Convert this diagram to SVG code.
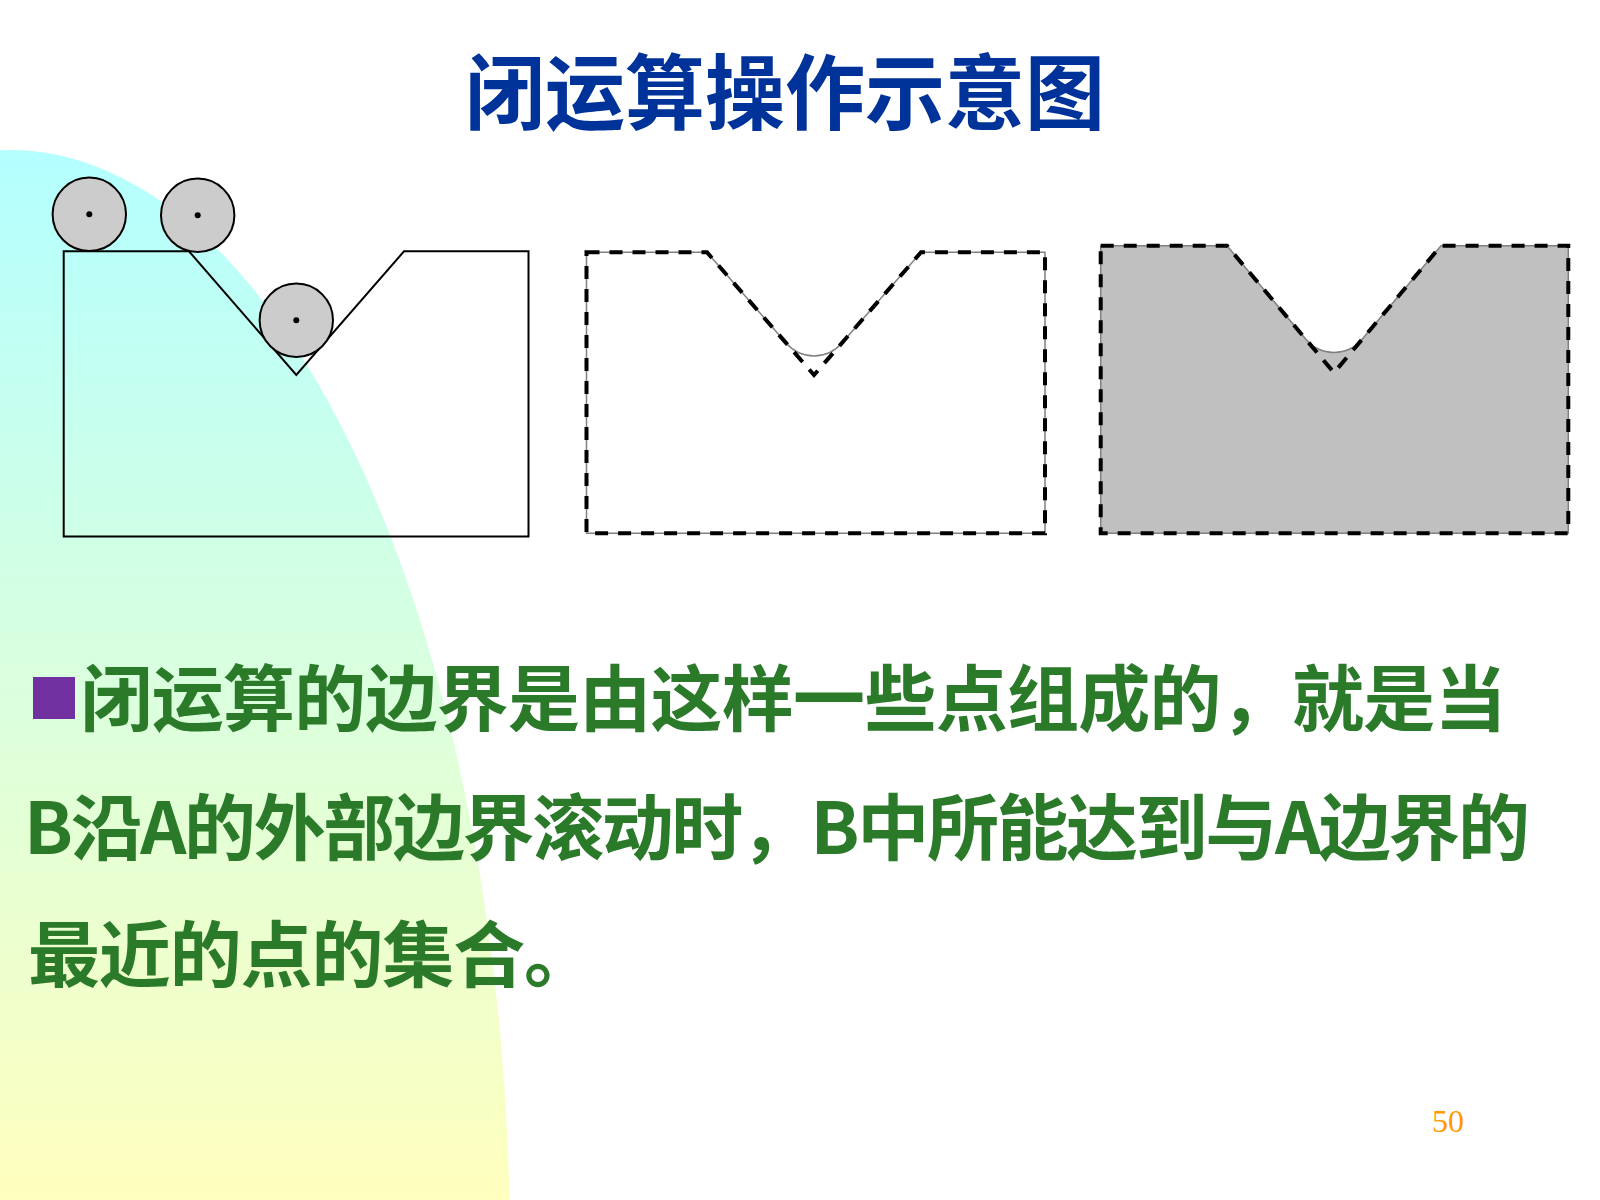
<svg xmlns="http://www.w3.org/2000/svg" width="1600" height="1200" viewBox="0 0 1600 1200">
  <defs>
    <linearGradient id="bgGrad" gradientUnits="userSpaceOnUse" x1="0" y1="150" x2="0" y2="1200">
      <stop offset="0" stop-color="#b3ffff"/>
      <stop offset="1" stop-color="#ffffbe"/>
    </linearGradient>
  </defs>
  <style>
    .title { font-family: "Noto Sans CJK SC", "Noto Sans", sans-serif; font-weight: 700; font-size: 82px; fill: #003399; }
    .body { font-family: "Noto Sans CJK SC", "Noto Sans", sans-serif; font-weight: 700; font-size: 72px; fill: #2a7a2a; }
    .page { font-family: "Liberation Serif", serif; font-size: 32px; fill: #ff9900; }
    .orig { fill: none; stroke: #000; stroke-width: 2; stroke-linejoin: miter; }
    .ball { fill: #cccccc; stroke: #000; stroke-width: 2; }
    .dot { fill: #000; }
    .closed { stroke: #808080; stroke-width: 1.5; stroke-linejoin: round; }
    .dash { fill: none; stroke: #000; stroke-width: 4; stroke-dasharray: 13 10; }
  </style>

  <rect x="0" y="0" width="1600" height="1200" fill="#ffffff"/>
  <ellipse id="background-arc" cx="10" cy="1250" rx="500" ry="1100" fill="url(#bgGrad)"/>

  <text id="title" class="title" x="785" y="123" text-anchor="middle" textLength="640" lengthAdjust="spacingAndGlyphs">闭运算操作示意图</text>

  <g id="shape-original">
    <path class="orig" d="M63.7,251.3 L189,251.3 L296.3,375 L404,251.3 L528.5,251.3 L528.5,536.5 L63.7,536.5 Z"/>
    <g id="ball-1">
      <circle class="ball" cx="89.3" cy="214.3" r="36.7"/>
      <circle class="dot" cx="89.3" cy="214.3" r="3"/>
    </g>
    <g id="ball-2">
      <circle class="ball" cx="197.7" cy="215.3" r="36.7"/>
      <circle class="dot" cx="197.7" cy="215.3" r="3"/>
    </g>
    <g id="ball-3">
      <circle class="ball" cx="296.3" cy="320.3" r="36.7"/>
      <circle class="dot" cx="296.3" cy="320.3" r="3"/>
    </g>
  </g>

  <g id="shape-closing-outline">
    <path class="closed" fill="#ffffff" d="M586.5,252.3 L707,252.3 L786.3,343.3 A36.7,36.7 0 0 0 841.7,343.3 L921,252.3 L1045,252.3 L1045,533.3 L586.5,533.3 Z"/>
    <path class="dash" d="M586.5,252.3 L707,252.3 L814,375 L921,252.3 L1045,252.3 L1045,533.3 L586.5,533.3 Z"/>
  </g>

  <g id="shape-closing-result">
    <path class="closed" fill="#c0c0c0" d="M1100.7,245.7 L1227,245.7 L1305.9,339.3 A36.7,36.7 0 0 0 1362.1,339.3 L1441,245.7 L1568.3,245.7 L1568.3,533.3 L1100.7,533.3 Z"/>
    <path class="dash" d="M1100.7,245.7 L1227,245.7 L1334,372.7 L1441,245.7 L1568.3,245.7 L1568.3,533.3 L1100.7,533.3 Z"/>
  </g>

  <g id="description">
    <rect id="bullet" x="33" y="677" width="42" height="42" fill="#7030a0"/>
    <text class="body" x="80.5" y="725" textLength="1426" lengthAdjust="spacing">闭运算的边界是由这样一些点组成的，就是当</text>
    <text class="body" x="24" y="854" textLength="1506" lengthAdjust="spacing">B沿A的外部边界滚动时，B中所能达到与A边界的</text>
    <text class="body" x="28" y="981" textLength="568" lengthAdjust="spacing">最近的点的集合。</text>
  </g>

  <text id="page-number" class="page" x="1432" y="1132">50</text>
</svg>
